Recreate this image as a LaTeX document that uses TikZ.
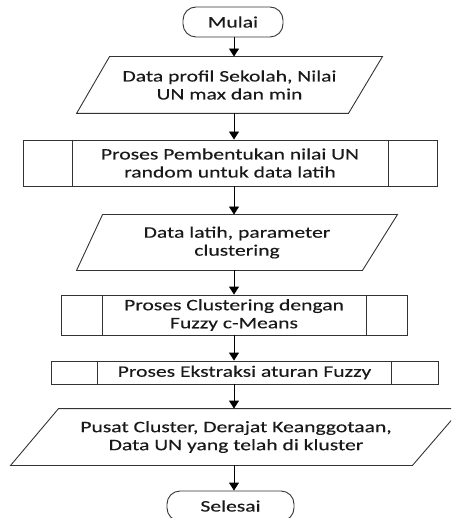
\documentclass[tikz,border=0pt]{standalone}
\usepackage{fontspec}
\setmainfont{Carlito}[FakeStretch=1.35,FakeBold=0.25]
\usetikzlibrary{arrows.meta,calc}
\begin{document}
\begin{tikzpicture}[x=1pt,y=-1pt,
  line width=0.9pt,
  every node/.style={font=\fontsize{16}{18}\selectfont, align=center, inner sep=0pt, text=black!90},
  term/.style={draw=black!80, rounded corners=13pt, minimum height=30pt},
  procbox/.style={draw=black!80},
  iobox/.style={},
  shapeline/.style={draw=black!80},
  arr/.style={draw=black, -{Triangle[width=10pt,length=8pt]}}
]
\useasboundingbox (0,0) rectangle (451,518);
\clip (0,0) rectangle (451,518);
\coordinate (ax) at (234,0);

% Start
\node[term, minimum width=100pt] (m) at (233,22) {Mulai};

% Input 1
\node[iobox, minimum width=305pt, minimum height=56pt] (d1) at (229.5,85) {Data profil Sekolah, Nilai\\UN max dan min};
\draw[shapeline] ($(d1.north west)+(33,0)$) -- (d1.north east) -- ($(d1.south east)+(-34,0)$) -- (d1.south west) -- cycle;

% Process 1
\node[procbox, minimum width=414pt, minimum height=46pt] (p1) at (230,163) {Proses Pembentukan nilai UN\\random untuk data latih};
\draw[shapeline] ([xshift=50pt]p1.north west) -- ([xshift=50pt]p1.south west);
\draw[shapeline] ([xshift=-49pt]p1.north east) -- ([xshift=-49pt]p1.south east);

% Input 2
\node[iobox, minimum width=320pt, minimum height=55pt] (d2) at (237,242.5) {Data latih, parameter\\clustering};
\draw[shapeline] ($(d2.north west)+(26,0)$) -- (d2.north east) -- ($(d2.south east)+(-35,0)$) -- (d2.south west) -- cycle;

% Process 2
\node[procbox, minimum width=346pt, minimum height=40pt] (p2) at (234,315) {Proses Clustering dengan\\Fuzzy c-Means};
\draw[shapeline] ([xshift=42pt]p2.north west) -- ([xshift=42pt]p2.south west);
\draw[shapeline] ([xshift=-41pt]p2.north east) -- ([xshift=-41pt]p2.south east);

% Process 3
\node[procbox, minimum width=387pt, minimum height=23pt] (p3) at (244.5,372.5) {Proses Ekstraksi aturan Fuzzy};
\draw[shapeline] ([xshift=47pt]p3.north west) -- ([xshift=47pt]p3.south west);
\draw[shapeline] ([xshift=-47pt]p3.north east) -- ([xshift=-47pt]p3.south east);

% Output
\node[iobox, minimum width=450pt, minimum height=56pt] (d3) at (236,437) {Pusat Cluster, Derajat Keanggotaan,\\Data UN yang telah di kluster};
\draw[shapeline] ($(d3.north west)+(48,0)$) -- (d3.north east) -- ($(d3.south east)+(-49,0)$) -- (d3.south west) -- cycle;

% End
\node[term, minimum width=127pt] (s) at (230.5,506) {Selesai};

% Connectors
\draw[arr] (m.south -| ax) -- (d1.north -| ax);
\draw[arr] (d1.south -| ax) -- (p1.north -| ax);
\draw[arr] (p1.south -| ax) -- (d2.north -| ax);
\draw[arr] (d2.south -| ax) -- (p2.north -| ax);
\draw[arr] (p2.south -| ax) -- (p3.north -| ax);
\draw[arr] (p3.south -| ax) -- (d3.north -| ax);
\draw[arr] (d3.south -| ax) -- (s.north -| ax);
\end{tikzpicture}
\end{document}
